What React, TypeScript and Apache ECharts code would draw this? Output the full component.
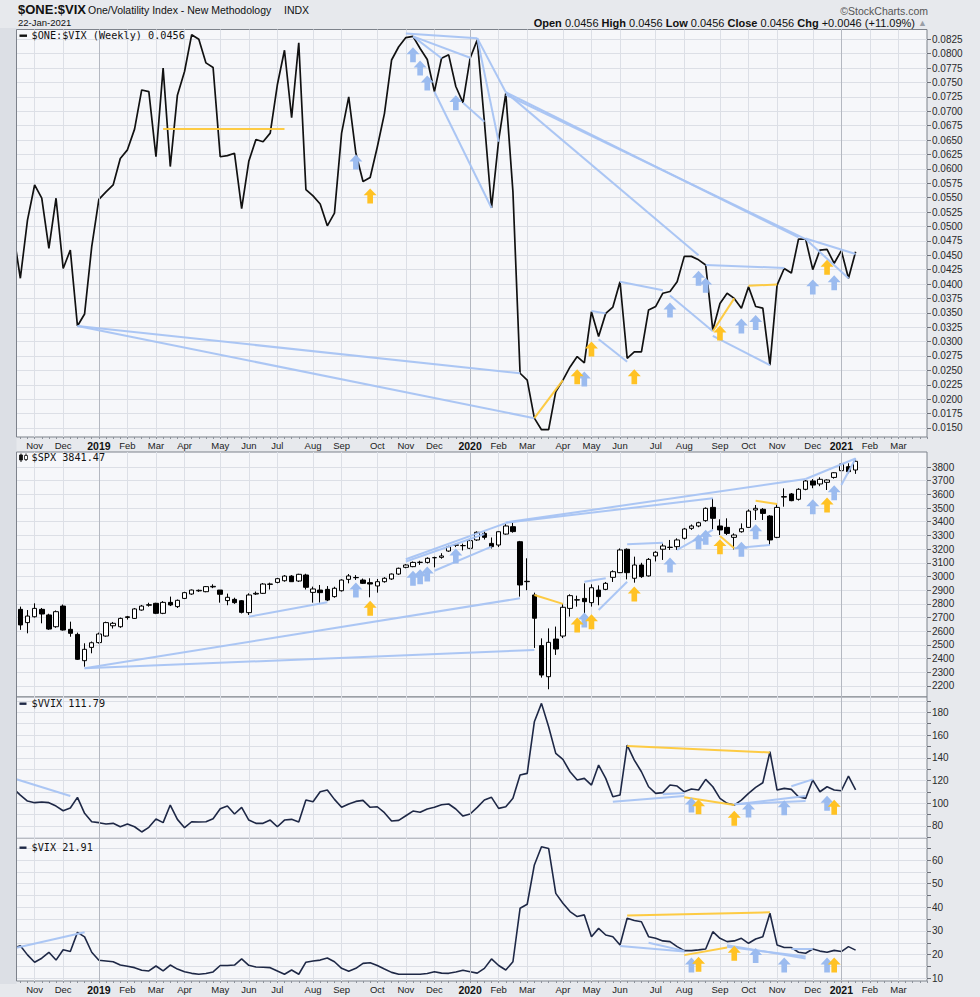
import React, { useEffect, useRef } from 'react';
import * as echarts from 'echarts';

// ---------- categories: weekly bars (Friday dates) ----------
const weeks: string[] = [];
for (let i = 0; i < 129; i++) {
  weeks.push(new Date(Date.UTC(2018, 9, 19 + 7 * i)).toISOString().slice(0, 10));
}
const monthNames = ['Jan', 'Feb', 'Mar', 'Apr', 'May', 'Jun', 'Jul', 'Aug', 'Sep', 'Oct', 'Nov', 'Dec'];

// ---------- series values ----------
const oneVix = [
  0.0491, 0.0410, 0.0511, 0.0572, 0.0549, 0.0462, 0.0549, 0.0427, 0.0459, 0.0327,
  0.0348, 0.0465, 0.0547, 0.0560, 0.0572, 0.0618, 0.0633, 0.0669, 0.0737, 0.0734,
  0.0621, 0.0775, 0.0604, 0.0728, 0.0769, 0.0833, 0.0825, 0.0784, 0.0776, 0.0621,
  0.0623, 0.0627, 0.0531, 0.0613, 0.0651, 0.0647, 0.0662, 0.0746, 0.0806, 0.0689,
  0.0819, 0.0564, 0.0553, 0.0539, 0.0501, 0.0523, 0.0662, 0.0725, 0.0627, 0.0578,
  0.0585, 0.0638, 0.0696, 0.0789, 0.0812, 0.0828, 0.0830, 0.0809, 0.0790, 0.0734,
  0.0792, 0.0798, 0.0743, 0.0715, 0.0792, 0.0824, 0.0682, 0.0532, 0.0650, 0.0731,
  0.0560, 0.0245, 0.0233, 0.0167, 0.0147, 0.0147, 0.0213, 0.0233, 0.0256, 0.0274,
  0.0263, 0.0352, 0.0309, 0.0349, 0.0360, 0.0404, 0.0271, 0.0282, 0.0282, 0.0355,
  0.0361, 0.0384, 0.0387, 0.0404, 0.0448, 0.0448, 0.0442, 0.0433, 0.0320, 0.0366,
  0.0384, 0.0375, 0.0358, 0.0395, 0.0361, 0.0358, 0.0259, 0.0398, 0.0427, 0.0419,
  0.0478, 0.0478, 0.0425, 0.0459, 0.0460, 0.0436, 0.0458, 0.0410, 0.0456,
];

const spxOpen = [
  2772, 2760, 2663, 2706, 2760, 2719, 2633, 2784, 2614, 2577,
  2385, 2482, 2517, 2565, 2640, 2633, 2700, 2694, 2755, 2790,
  2804, 2731, 2811, 2780, 2840, 2872, 2895, 2889, 2924, 2901,
  2824, 2833, 2823, 2736, 2872, 2877, 2945, 2957, 2969, 3003,
  2967, 3011, 2884, 2901, 2906, 2853, 2896, 2979, 2993, 2974,
  2955, 2931, 2962, 2982, 3018, 3067, 3072, 3103, 3103, 3137,
  3140, 3186, 3228, 3225, 3206, 3267, 3315, 3242, 3230, 3310,
  3364, 3254, 2962, 2865, 2495, 2268, 2543, 2565, 2767, 2830,
  2840, 2809, 2901, 2906, 2994, 3028, 3199, 2987, 3084, 3004,
  3150, 3199, 3212, 3218, 3279, 3352, 3369, 3408, 3505, 3369,
  3359, 3286, 3327, 3359, 3486, 3491, 3442, 3286, 3580, 3603,
  3564, 3637, 3698, 3676, 3688, 3724, 3773, 3802, 3778,
];
const spxHigh = [
  2810, 2780, 2755, 2804, 2770, 2728, 2752, 2795, 2670, 2590,
  2512, 2525, 2590, 2670, 2668, 2700, 2712, 2770, 2792, 2808,
  2808, 2820, 2853, 2832, 2888, 2905, 2905, 2930, 2943, 2901,
  2875, 2845, 2828, 2877, 2890, 2952, 2955, 2990, 3010, 3010,
  3020, 3020, 2926, 2938, 2930, 2925, 2980, 3018, 3010, 2985,
  2987, 2982, 2995, 3022, 3065, 3090, 3110, 3115, 3140, 3145,
  3170, 3225, 3240, 3240, 3270, 3330, 3330, 3285, 3330, 3385,
  3393, 3260, 3133, 2882, 2548, 2621, 2634, 2800, 2870, 2860,
  2950, 2943, 2935, 2960, 3045, 3205, 3205, 3145, 3100, 3135,
  3185, 3242, 3267, 3279, 3355, 3380, 3400, 3505, 3571, 3418,
  3425, 3315, 3388, 3490, 3522, 3500, 3448, 3530, 3644, 3610,
  3645, 3705, 3712, 3725, 3710, 3762, 3839, 3827, 3860,
];
const spxLow = [
  2750, 2610, 2585, 2700, 2658, 2610, 2625, 2605, 2560, 2390,
  2341, 2439, 2510, 2560, 2620, 2625, 2685, 2690, 2750, 2780,
  2725, 2725, 2784, 2770, 2835, 2866, 2888, 2885, 2915, 2809,
  2790, 2800, 2730, 2719, 2865, 2872, 2905, 2950, 2962, 2960,
  2960, 2905, 2809, 2809, 2820, 2845, 2890, 2950, 2975, 2945,
  2848, 2882, 2955, 2975, 3012, 3060, 3068, 3085, 3095, 3067,
  3130, 3180, 3215, 3190, 3200, 3260, 3270, 3205, 3215, 3305,
  3320, 2853, 2900, 2478, 2261, 2176, 2427, 2550, 2707, 2780,
  2719, 2780, 2790, 2900, 2960, 3025, 2979, 2955, 2990, 3000,
  3110, 3121, 3194, 3194, 3270, 3340, 3360, 3400, 3345, 3303,
  3303, 3198, 3320, 3355, 3413, 3413, 3230, 3280, 3510, 3550,
  3555, 3630, 3645, 3660, 3632, 3715, 3668, 3754, 3750,
];
const spxClose = [
  2762, 2646, 2711, 2767, 2726, 2616, 2743, 2609, 2585, 2395,
  2468, 2516, 2580, 2663, 2658, 2694, 2706, 2763, 2784, 2794,
  2731, 2811, 2792, 2826, 2882, 2901, 2899, 2926, 2928, 2870,
  2848, 2809, 2738, 2865, 2877, 2945, 2943, 2984, 3003, 2962,
  3016, 2921, 2909, 2882, 2828, 2914, 2974, 3004, 2991, 2950,
  2945, 2962, 2987, 3018, 3060, 3084, 3103, 3104, 3133, 3138,
  3150, 3218, 3231, 3226, 3262, 3323, 3286, 3218, 3327, 3369,
  3328, 2938, 2965, 2695, 2280, 2519, 2470, 2775, 2860, 2828,
  2816, 2918, 2853, 2950, 3035, 3194, 3028, 3084, 2999, 3125,
  3177, 3223, 3214, 3267, 3347, 3369, 3393, 3498, 3425, 3340,
  3315, 3303, 3349, 3478, 3498, 3461, 3267, 3505, 3584, 3554,
  3637, 3698, 3668, 3710, 3705, 3758, 3822, 3766, 3841.47,
];

const vvix = [
  113.1, 107.2, 101.9, 100.5, 101.1, 100.5, 97.5, 93.4, 95.8, 105.2,
  91.1, 83.7, 82.9, 81.7, 82.3, 79.3, 81.7, 79.3, 74.7, 78.8,
  86.1, 82.9, 98.4, 85.8, 78.5, 83.7, 83.5, 83.7, 86.4, 95.2,
  97.5, 90.5, 96.4, 85.2, 82.3, 82.3, 85.2, 79.3, 85.2, 85.8,
  83.5, 102.8, 101.3, 110.1, 111.6, 103.4, 96.4, 99.3, 101.6, 102.5,
  96.4, 96.9, 91.7, 84.3, 84.9, 89.0, 93.1, 92.0, 94.9, 96.4,
  98.7, 99.3, 94.9, 88.7, 90.5, 96.4, 102.8, 105.2, 95.5, 96.9,
  104.3, 124.8, 126.3, 171.7, 187.9, 167.3, 143.9, 138.6, 127.7, 120.4,
  121.9, 116.0, 133.6, 121.9, 105.7, 107.2, 151.2, 138.0, 127.7, 114.5,
  108.7, 109.3, 116.0, 115.1, 110.1, 112.5, 111.6, 121.0, 114.5, 104.3,
  99.9, 98.4, 102.8, 108.7, 114.0, 118.0, 145.3, 111.6, 113.1, 112.2,
  105.7, 104.3, 120.4, 110.1, 114.5, 111.6, 111.0, 123.9, 111.79,
];

const vix = [
  22.7, 23.8, 19.9, 16.8, 18.5, 21.0, 17.7, 22.1, 21.3, 29.4,
  27.5, 21.0, 17.6, 17.3, 17.0, 15.6, 15.1, 14.5, 13.4, 13.1,
  15.2, 13.1, 15.6, 13.9, 12.8, 12.1, 11.7, 12.0, 12.7, 15.4,
  15.4, 15.6, 18.2, 15.5, 14.8, 14.7, 14.5, 13.1, 11.7, 13.5,
  11.7, 16.8, 17.3, 17.7, 18.6, 17.0, 14.2, 13.0, 14.2, 16.3,
  16.6, 15.4, 13.9, 12.5, 11.7, 11.7, 11.7, 11.7, 12.0, 12.8,
  12.2, 12.1, 12.7, 13.4, 12.8, 12.2, 14.2, 18.2, 15.4, 13.5,
  17.0, 39.6, 41.3, 57.9, 65.6, 64.9, 45.9, 41.7, 38.2, 36.1,
  36.8, 27.6, 31.1, 28.3, 27.6, 24.1, 35.4, 34.4, 33.9, 27.6,
  26.9, 25.8, 25.5, 23.4, 21.7, 21.7, 22.0, 22.4, 29.7, 26.9,
  25.5, 25.8, 26.9, 24.8, 26.6, 27.6, 37.5, 24.1, 23.0, 23.0,
  21.0, 20.6, 22.4, 21.5, 21.0, 21.8, 21.3, 23.4, 21.91,
];

// ---------- tick labels ----------
const oneTicks = [
  0.0150, 0.0175, 0.0200, 0.0225, 0.0250, 0.0275, 0.0300, 0.0325, 0.0350, 0.0375,
  0.0400, 0.0425, 0.0450, 0.0475, 0.0500, 0.0525, 0.0550, 0.0575, 0.0600, 0.0625,
  0.0650, 0.0675, 0.0700, 0.0725, 0.0750, 0.0775, 0.0800, 0.0825,
];
const spxTicks = [2200, 2300, 2400, 2500, 2600, 2700, 2800, 2900, 3000, 3100, 3200, 3300, 3400, 3500, 3600, 3700, 3800];
const vvixLabels = [80, 100, 120, 140, 160, 180];
const vvixGrid = [70, 80, 90, 100, 110, 120, 130, 140, 150, 160, 170, 180, 190];
const vixLabels = [10, 20, 30, 40, 50, 60];
const vixGrid = [10, 15, 20, 25, 30, 35, 40, 45, 50, 55, 60, 65];

// ---------- annotations: [week1, value1, week2, value2] and arrows [week, value] ----------
const oneBlueLines = [
  [9, 0.0327, 71, 0.0245], [9, 0.0327, 73, 0.0167],
  [55, 0.0835, 65, 0.0827], [56, 0.0830, 64, 0.0793], [56, 0.0830, 60, 0.0792],
  [59, 0.0734, 67, 0.0532], [63, 0.0715, 66, 0.0682], [65, 0.0827, 68, 0.0647], [65, 0.0827, 69, 0.0733],
  [69, 0.0733, 96, 0.0450], [69, 0.0733, 110, 0.0481], [69, 0.0729, 111, 0.0478],
  [111, 0.0479, 118, 0.0452], [111, 0.0478, 117, 0.0410],
  [81, 0.0353, 83, 0.0349], [82, 0.0304, 86, 0.0265], [85, 0.0404, 91, 0.0389],
  [92, 0.0380, 98, 0.0318], [98, 0.0310, 106, 0.0259], [97, 0.0433, 108, 0.0428],
];
const oneOrangeLines = [[21, 0.0669, 38, 0.0669], [73, 0.0167, 77, 0.0233], [98, 0.0318, 101, 0.0375], [103, 0.0397, 107, 0.0399]];
const oneBlueArrows = [[48, 0.0612], [56, 0.0798], [57, 0.0775], [58, 0.0749], [62, 0.0715], [80, 0.0235], [92, 0.0355], [96, 0.0410], [97, 0.0398], [102, 0.0327], [104, 0.0333], [112, 0.0395], [115, 0.0402]];
const oneOrangeArrows = [[50, 0.0553], [79, 0.0239], [81, 0.0287], [87, 0.0239], [99, 0.0315], [114, 0.0429]];

const spxBlueLines = [
  [10, 2329, 71, 2841], [10, 2329, 73, 2463], [33, 2706, 44, 2812],
  [55, 3126, 69, 3390], [55, 3110, 66, 3310], [59, 3042, 67, 3218],
  [69, 3392, 98, 3571], [69, 3395, 111, 3712], [111, 3712, 118, 3862], [116, 3668, 118, 3862],
  [80, 2962, 83, 2987], [82, 2755, 86, 2962], [86, 3235, 91, 3247], [93, 3194, 98, 3340], [101, 3206, 106, 3230],
];
const spxOrangeLines = [[73, 2865, 77, 2800], [99, 3296, 101, 3206], [104, 3554, 107, 3530]];
const spxBlueArrows = [[48, 2901], [56, 2987], [57, 2999], [58, 3018], [62, 3150], [80, 2682], [92, 3084], [96, 3254], [97, 3286], [102, 3199], [104, 3327], [112, 3510], [115, 3612]];
const spxOrangeArrows = [[50, 2768], [79, 2646], [81, 2670], [87, 2872], [99, 3218], [114, 3522]];

const vvixBlueLines = [[0, 122, 8, 106.3], [84, 101.3, 94, 106.3], [91, 108, 94, 109], [101, 99, 111, 106.3], [101, 99, 111, 102], [109, 115, 112, 121]];
const vvixOrangeLines = [[86, 150.3, 106, 144.7], [94, 105.2, 101, 98.4]];
const vvixBlueArrows = [[95, 98.4], [103, 94.0], [108, 96.1], [114, 99.9]];
const vvixOrangeArrows = [[96, 96.9], [101, 86.7], [115, 96.4]];

const vixBlueLines = [[0, 22.6, 10, 29.5], [85, 23.7, 94, 21.3], [89, 25.0, 94, 21.6], [100, 24.0, 111, 18.4], [100, 23.3, 111, 19.2], [109, 22.7, 112, 22.7]];
const vixOrangeLines = [[86, 36.5, 106, 37.9], [94, 19.8, 100, 23.0]];
const vixBlueArrows = [[95, 15.6], [104, 19.6], [108, 15.6], [114, 15.6]];
const vixOrangeArrows = [[96, 15.9], [101, 20.6], [115, 15.6]];

// ---------- style ----------
const FONT = '"Liberation Sans", Arial, Helvetica, sans-serif';
const MONO = '"DejaVu Sans Mono", "Liberation Mono", monospace';
const BLUE = '#a6c3f3';
const ORANGE = '#fdc83a';
const ARROW_BLUE = '#9bbbef';
const ARROW_ORANGE = '#ffc224';
const ARROW = 'path://M6,0 L12,6.5 L8.6,6.5 L8.6,14 L3.4,14 L3.4,6.5 L0,6.5 Z';
const GRID_LINE = '#dcdfe6';
const FRAME = '#7d828b';

const isMonthMark = (i: number) => {
  const d = Number(weeks[i].slice(8, 10));
  return d >= 5 && d <= 11;
};
const yearMarks = weeks.filter((w, i) => w.slice(5, 7) === '01' && isMonthMark(i));

function segs(list: number[][], color: string) {
  return list.map(([a, b, c, d]) => [
    { coord: [a, b], lineStyle: { color, width: 2, type: 'solid', opacity: 0.95 } },
    { coord: [c, d] },
  ]);
}
function arrows(list: number[][], color: string) {
  return list.map(([a, b]) => ({ coord: [a, b], itemStyle: { color } }));
}
function marks(blue: number[][], orange: number[][], ab: number[][], ao: number[][]) {
  return {
    markLine: {
      silent: true,
      symbol: ['none', 'none'],
      label: { show: false },
      lineStyle: { type: 'solid' },
      emphasis: { disabled: true },
      data: [
        ...yearMarks.map((w) => ({ xAxis: w, lineStyle: { color: '#b4b8c1', width: 1, type: 'solid' } })),
        ...segs(blue, BLUE),
        ...segs(orange, ORANGE),
      ],
    },
    markPoint: {
      silent: true,
      symbol: ARROW,
      symbolSize: [13, 15],
      label: { show: false },
      data: [...arrows(ab, ARROW_BLUE), ...arrows(ao, ARROW_ORANGE)],
    },
  };
}

const xFormatter = (val: string) => {
  const m = Number(val.slice(5, 7));
  return m === 1 ? `{y|${val.slice(0, 4)}}` : `{m|${monthNames[m - 1]}}`;
};

function xAxis(gridIndex: number, labels: boolean) {
  return {
    type: 'category',
    gridIndex,
    data: weeks,
    boundaryGap: false,
    axisLine: { show: false },
    axisTick: { show: labels, interval: 0, length: 2, lineStyle: { color: '#8d929b' } },
    axisLabel: {
      show: labels,
      interval: (i: number) => isMonthMark(i),
      formatter: xFormatter,
      margin: 3,
      rich: {
        y: { fontWeight: 'bold', fontSize: 10.5, fontFamily: FONT, color: '#111' },
        m: { fontSize: 9.5, fontFamily: FONT, color: '#222' },
      },
    },
    splitLine: { show: true, interval: (i: number) => isMonthMark(i), lineStyle: { color: GRID_LINE, width: 1 } },
  };
}

function yAxis(gridIndex: number, min: number, max: number, ticks: number[], labels: number[], fmt: (v: number) => string) {
  return {
    type: 'value',
    gridIndex,
    position: 'right',
    min,
    max,
    axisLine: { show: false },
    axisTick: { show: true, length: 4, customValues: ticks, lineStyle: { color: '#6d717a' } },
    axisLabel: { customValues: labels, formatter: fmt, color: '#2a2a2a', fontSize: 10, fontFamily: FONT, margin: 5 },
    splitLine: { show: true, lineStyle: { color: GRID_LINE, width: 1 } },
  };
}

const gridBase = { left: 13.2, right: 53, show: true, backgroundColor: '#f6f7fa', borderColor: FRAME, borderWidth: 1 };

function buildOption() {
  const txt = (text: string, x: number, y: number, size: number, opts: any = {}) => ({
    type: 'text',
    x,
    y,
    z: 110,
    style: {
      text,
      fontSize: size,
      fontFamily: opts.family || FONT,
      fontWeight: opts.weight || 'normal',
      fill: opts.fill || '#111',
      align: opts.align || 'left',
      verticalAlign: 'middle',
    },
  });
  const richB = { fontSize: 11, fontFamily: FONT, fontWeight: 'bold', fill: '#111' };
  const richN = { fontSize: 11, fontFamily: FONT, fill: '#111' };
  const richG = { fontSize: 9, fontFamily: FONT, fill: '#9a9ea6' };

  return {
    animation: false,
    backgroundColor: '#e7e9ed',
    textStyle: { fontFamily: FONT },
    grid: [
      { ...gridBase, top: 29.5, height: 407.5 },
      { ...gridBase, top: 452, height: 245 },
      { ...gridBase, top: 697, height: 141 },
      { ...gridBase, top: 838, height: 143 },
    ],
    xAxis: [xAxis(0, true), xAxis(1, false), xAxis(2, false), xAxis(3, true)],
    yAxis: [
      yAxis(0, 0.01343, 0.0842, oneTicks, oneTicks, (v) => v.toFixed(4)),
      yAxis(1, 2119.6, 3909.6, spxTicks, spxTicks, (v) => String(v)),
      yAxis(2, 69.4, 193.5, vvixGrid, vvixLabels, (v) => String(v)),
      yAxis(3, 8.86, 69.3, vixGrid, vixLabels, (v) => String(v)),
    ],
    series: [
      {
        type: 'line',
        name: '$ONE:$VIX',
        xAxisIndex: 0,
        yAxisIndex: 0,
        data: oneVix,
        symbol: 'none',
        lineStyle: { color: '#111111', width: 1.7 },
        z: 3,
        ...marks(oneBlueLines, oneOrangeLines, oneBlueArrows, oneOrangeArrows),
      },
      {
        type: 'candlestick',
        name: '$SPX',
        xAxisIndex: 1,
        yAxisIndex: 1,
        barWidth: 5,
        data: spxOpen.map((o, i) => [o, spxClose[i], spxLow[i], spxHigh[i]]),
        itemStyle: {
          color: '#ffffff',
          color0: '#000000',
          borderColor: '#000000',
          borderColor0: '#000000',
          borderColorDoji: '#000000',
          borderWidth: 1,
        },
        z: 3,
        ...marks(spxBlueLines, spxOrangeLines, spxBlueArrows, spxOrangeArrows),
      },
      {
        type: 'line',
        name: '$VVIX',
        xAxisIndex: 2,
        yAxisIndex: 2,
        data: vvix,
        symbol: 'none',
        lineStyle: { color: '#1e2846', width: 1.6 },
        z: 3,
        ...marks(vvixBlueLines, vvixOrangeLines, vvixBlueArrows, vvixOrangeArrows),
      },
      {
        type: 'line',
        name: '$VIX',
        xAxisIndex: 3,
        yAxisIndex: 3,
        data: vix,
        symbol: 'none',
        lineStyle: { color: '#1e2846', width: 1.6 },
        z: 3,
        ...marks(vixBlueLines, vixOrangeLines, vixBlueArrows, vixOrangeArrows),
      },
    ],
    graphic: [
      // left strip hiding the partial first week, and the frame edge
      { type: 'rect', z: 100, shape: { x: 0, y: 28, width: 16.5, height: 956 }, style: { fill: '#dcdfe5' } },
      { type: 'line', z: 101, shape: { x1: 16.5, y1: 29.5, x2: 16.5, y2: 437 }, style: { stroke: FRAME, lineWidth: 1 } },
      { type: 'line', z: 101, shape: { x1: 16.5, y1: 452, x2: 16.5, y2: 981 }, style: { stroke: FRAME, lineWidth: 1 } },
      // header
      txt('$ONE:$VIX', 18, 9, 13, { weight: 'bold' }),
      txt('One/Volatility Index - New Methodology', 88, 9.5, 10.5),
      txt('INDX', 284, 9.5, 10.5),
      txt('22-Jan-2021', 18, 22.5, 9.5),
      txt('\u00A9StockCharts.com', 928, 11, 10.5, { align: 'right', fill: '#555' }),
      {
        type: 'text',
        x: 927,
        y: 23,
        z: 110,
        style: {
          text: '{b|Open} {n|0.0456} {b|High} {n|0.0456} {b|Low} {n|0.0456} {b|Close} {n|0.0456} {b|Chg} {n|+0.0046 (+11.09%)} {g|\u25B2}',
          align: 'right',
          verticalAlign: 'middle',
          fontSize: 11,
          fontFamily: FONT,
          fill: '#111',
          rich: { b: richB, n: richN, g: richG },
        },
      },
      // panel legends
      { type: 'rect', z: 110, shape: { x: 19.5, y: 34.5, width: 7.5, height: 2.4 }, style: { fill: '#111' } },
      txt('$ONE:$VIX (Weekly) 0.0456', 31.5, 35.8, 10.2, { family: MONO }),
      { type: 'line', z: 110, shape: { x1: 21, y1: 453.5, x2: 21, y2: 462 }, style: { stroke: '#111', lineWidth: 1 } },
      { type: 'rect', z: 111, shape: { x: 19.5, y: 455, width: 3, height: 5 }, style: { fill: '#111', stroke: '#111', lineWidth: 0.8 } },
      { type: 'line', z: 110, shape: { x1: 26, y1: 453.5, x2: 26, y2: 461 }, style: { stroke: '#111', lineWidth: 1 } },
      { type: 'rect', z: 111, shape: { x: 24.5, y: 455.5, width: 3, height: 4 }, style: { fill: '#fff', stroke: '#111', lineWidth: 0.8 } },
      txt('$SPX 3841.47', 31.5, 457.5, 10.2, { family: MONO }),
      { type: 'rect', z: 110, shape: { x: 19.5, y: 702.5, width: 7, height: 2.4 }, style: { fill: '#1e2846' } },
      txt('$VVIX 111.79', 31.5, 703.8, 10.2, { family: MONO }),
      { type: 'rect', z: 110, shape: { x: 19.5, y: 846.5, width: 7, height: 2.4 }, style: { fill: '#1e2846' } },
      txt('$VIX 21.91', 31.5, 847.8, 10.2, { family: MONO }),
    ],
  };
}

export default function App() {
  const ref = useRef<HTMLDivElement>(null);
  useEffect(() => {
    if (!ref.current) return;
    const chart = echarts.init(ref.current, undefined, { renderer: 'svg' });
    chart.setOption(buildOption() as any);
    return () => {
      chart.dispose();
    };
  }, []);
  return (
    <div
      ref={ref}
      style={{ position: 'absolute', left: 0, top: 0, width: 980, height: 997, background: '#e7e9ed' }}
    />
  );
}
